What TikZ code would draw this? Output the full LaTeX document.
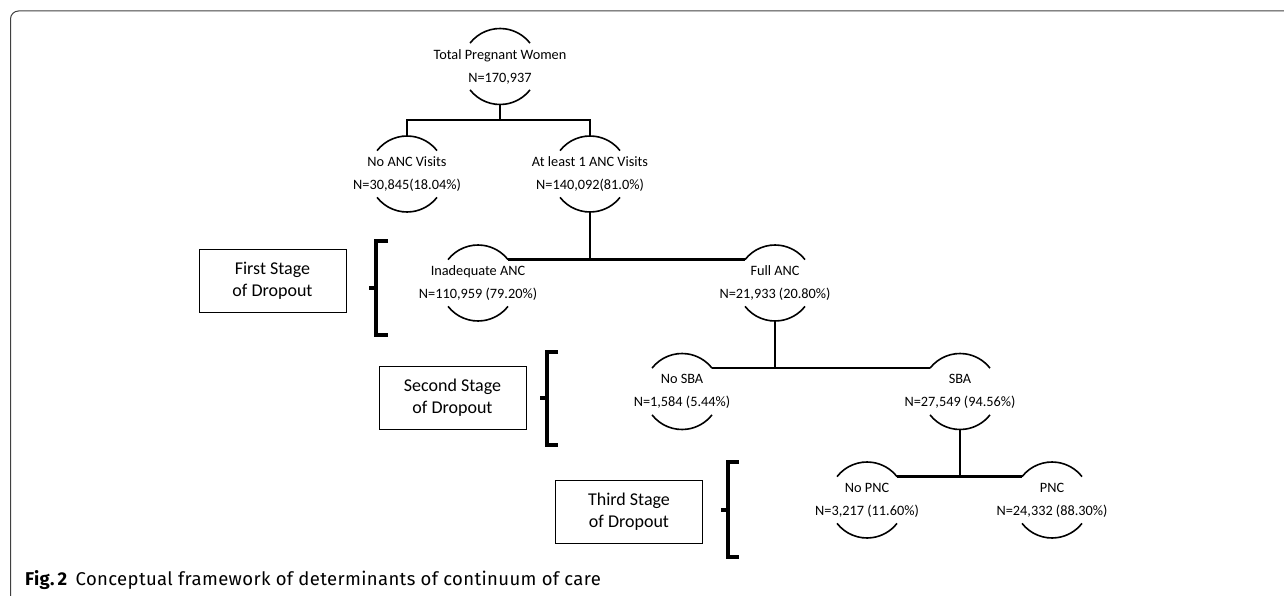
\documentclass[tikz,border=0pt]{standalone}
\usepackage{fontspec}
\setmainfont{Carlito}
\newfontfamily\capfont[LetterSpace=2]{Fira Sans}
\tikzset{
  ntext/.style={align=center, font=\fontsize{14.3}{23}\selectfont, inner sep=0pt},
  arcst/.style={line width=1.6pt},
  conn/.style={line width=2.3pt},
  stagebox/.style={draw, line width=0.8pt, minimum width=147pt, minimum height=63pt, align=center, font=\fontsize{18}{22}\selectfont, inner sep=0pt},
  brack/.style={line width=3.6pt},
  framest/.style={line width=1pt, draw=black!75},
}
\newcommand\cnode[4]{%
  \node[ntext] (#1) at (#2,#3) {#4};
  \draw[arcst] (#1.center) ++(142:38pt) arc[start angle=142, end angle=38, radius=38pt];
  \draw[arcst] (#1.center) ++(218:38pt) arc[start angle=218, end angle=322, radius=38pt];
  \coordinate (#1-t) at ([yshift=38pt]#1.center);
  \coordinate (#1-b) at ([yshift=-38pt]#1.center);
  \coordinate (#1-l) at ([shift={(142:38pt)}]#1.center);
  \coordinate (#1-r) at ([shift={(38:38pt)}]#1.center);
}
\begin{document}
\begin{tikzpicture}[x=1pt, y=-1pt]
\useasboundingbox (0,0) rectangle (1284,596);
% frame
\draw[framest, rounded corners=8pt] (1284,11) -- (10.5,11) -- (10.5,596);

% tree nodes
\cnode{tot}{500}{66.5}{Total Pregnant Women\\N=170,937}
\cnode{noanc}{407}{174}{No ANC Visits\\N=30,845(18.04\%)}
\cnode{atl}{590}{174}{At least 1 ANC Visits\\N=140,092(81.0\%)}
\cnode{inad}{478}{283}{Inadequate ANC\\N=110,959 (79.20\%)}
\cnode{full}{775}{283}{Full ANC\\N=21,933 (20.80\%)}
\cnode{nosba}{682}{391.5}{No SBA\\N=1,584 (5.44\%)}
\cnode{sba}{960}{391.5}{SBA\\N=27,549 (94.56\%)}
\cnode{nopnc}{867}{500}{No PNC\\N=3,217 (11.60\%)}
\cnode{pnc}{1052}{500}{PNC\\N=24,332 (88.30\%)}

% connectors
\coordinate (j1) at (500,120);
\draw[conn] (tot-b) -- (j1);
\draw[conn] (noanc-t) |- (j1) -| (atl-t);
\draw[conn] (inad-r) -- (full-l);
\draw[conn] (atl-b) -- (atl-b |- full-l);
\draw[conn] (nosba-r) -- (sba-l);
\draw[conn] (full-b) -- (full-b |- sba-l);
\draw[conn] (nopnc-r) -- (pnc-l);
\draw[conn] (sba-b) -- (sba-b |- pnc-l);

% stage boxes
\node[stagebox] (s1) at (272.5,280.5) {First Stage\\of Dropout};
\node[stagebox] (s2) at (452.5,398) {Second Stage\\of Dropout};
\node[stagebox] (s3) at (629,511.5) {Third Stage\\of Dropout};

% brackets
\draw[brack] (388,241) -- (376,241) -- (376,335) -- (388,335);
\draw[brack] (376,288) -- (369,288);
\draw[brack] (558,352) -- (547,352) -- (547,445) -- (558,445);
\draw[brack] (547,398) -- (540,398);
\draw[brack] (739,462) -- (728,462) -- (728,557) -- (739,557);
\draw[brack] (728,510) -- (721,510);

% caption
\node[anchor=west, inner sep=0pt, font=\capfont\fontsize{18.5}{20}\selectfont] (cap) at (25,580)
  {\textbf{Fig.\,2}\hspace{8pt}Conceptual framework of determinants of continuum of care};
\end{tikzpicture}
\end{document}
